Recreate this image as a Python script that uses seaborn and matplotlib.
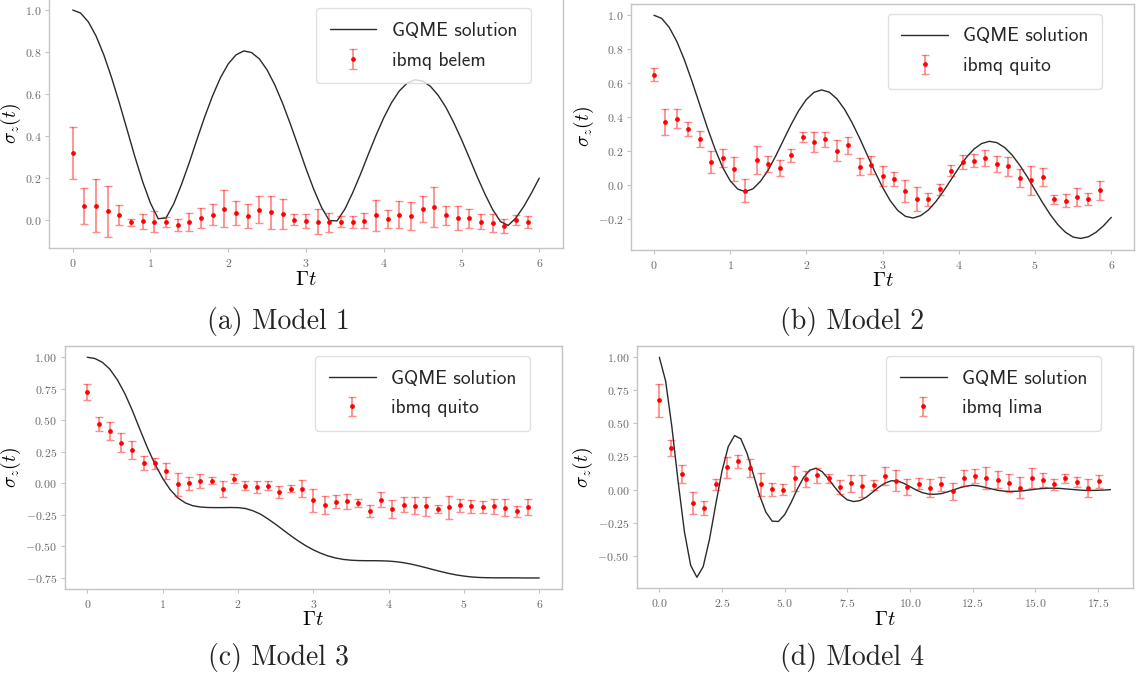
import numpy as np
import pandas as pd
import matplotlib
matplotlib.use("Agg")
import matplotlib.pyplot as plt
from matplotlib.font_manager import FontProperties
import seaborn as sns

# ---------------------------------------------------------------- data
# hardware sampling times (models 1-3) and model-4 sampling times
t_exp = [0.0, 0.15, 0.3, 0.45, 0.6, 0.75, 0.9, 1.05, 1.2, 1.35,
         1.5, 1.65, 1.8, 1.95, 2.1, 2.25, 2.4, 2.55, 2.7, 2.85,
         3.0, 3.15, 3.3, 3.45, 3.6, 3.75, 3.9, 4.05, 4.2, 4.35,
         4.5, 4.65, 4.8, 4.95, 5.1, 5.25, 5.4, 5.55, 5.7, 5.85]
t_exp4 = [0.0, 0.45, 0.9, 1.35, 1.8, 2.25, 2.7, 3.15, 3.6, 4.05,
          4.5, 4.95, 5.4, 5.85, 6.3, 6.75, 7.2, 7.65, 8.1, 8.55,
          9.0, 9.45, 9.9, 10.35, 10.8, 11.25, 11.7, 12.15, 12.6, 13.05,
          13.5, 13.95, 14.4, 14.85, 15.3, 15.75, 16.2, 16.65, 17.1, 17.55]

# GQME time grids
t_gqme = [0.0, 0.1, 0.2, 0.3, 0.4, 0.5, 0.6, 0.7, 0.8, 0.9,
          1.0, 1.1, 1.2, 1.3, 1.4, 1.5, 1.6, 1.7, 1.8, 1.9,
          2.0, 2.1, 2.2, 2.3, 2.4, 2.5, 2.6, 2.7, 2.8, 2.9,
          3.0, 3.1, 3.2, 3.3, 3.4, 3.5, 3.6, 3.7, 3.8, 3.9,
          4.0, 4.1, 4.2, 4.3, 4.4, 4.5, 4.6, 4.7, 4.8, 4.9,
          5.0, 5.1, 5.2, 5.3, 5.4, 5.5, 5.6, 5.7, 5.8, 5.9, 6.0]
t_gqme4 = [0.0, 0.25, 0.5, 0.75, 1.0, 1.25, 1.5, 1.75, 2.0, 2.25,
           2.5, 2.75, 3.0, 3.25, 3.5, 3.75, 4.0, 4.25, 4.5, 4.75,
           5.0, 5.25, 5.5, 5.75, 6.0, 6.25, 6.5, 6.75, 7.0, 7.25,
           7.5, 7.75, 8.0, 8.25, 8.5, 8.75, 9.0, 9.25, 9.5, 9.75,
           10.0, 10.25, 10.5, 10.75, 11.0, 11.25, 11.5, 11.75, 12.0, 12.25,
           12.5, 12.75, 13.0, 13.25, 13.5, 13.75, 14.0, 14.25, 14.5, 14.75,
           15.0, 15.25, 15.5, 15.75, 16.0, 16.25, 16.5, 16.75, 17.0, 17.25,
           17.5, 17.75, 18.0]

# Model 1
gqme1 = [1.000, 0.986, 0.944, 0.876, 0.786, 0.677, 0.556, 0.428, 0.299, 0.180,
         0.078, 0.004, 0.008, 0.076, 0.169, 0.273, 0.385, 0.493, 0.592, 0.677,
         0.743, 0.786, 0.805, 0.797, 0.767, 0.714, 0.642, 0.554, 0.455, 0.350,
         0.243, 0.144, 0.058, -0.005, -0.006, 0.050, 0.128, 0.216, 0.310, 0.402,
         0.486, 0.558, 0.614, 0.651, 0.667, 0.661, 0.636, 0.593, 0.535, 0.463,
         0.382, 0.295, 0.206, 0.123, 0.048, -0.009, -0.028, 0.008, 0.062, 0.127, 0.198]
belem = [0.317, 0.065, 0.067, 0.040, 0.022, -0.013, -0.008, -0.010, -0.012, -0.025,
         -0.012, 0.008, 0.022, 0.052, 0.032, 0.018, 0.048, 0.035, 0.027, 0.000,
         -0.005, -0.010, -0.013, -0.010, -0.010, -0.005, 0.020, 0.003, 0.024, 0.017,
         0.050, 0.060, 0.020, 0.006, 0.006, -0.010, -0.016, -0.030, -0.003, -0.010]
belem_err = [0.125, 0.088, 0.128, 0.122, 0.048, 0.018, 0.035, 0.050, 0.024, 0.030,
             0.044, 0.048, 0.050, 0.088, 0.058, 0.058, 0.063, 0.078, 0.073, 0.026,
             0.033, 0.060, 0.045, 0.027, 0.028, 0.036, 0.075, 0.044, 0.063, 0.069,
             0.062, 0.096, 0.047, 0.057, 0.046, 0.037, 0.041, 0.033, 0.024, 0.028]

# Model 2
gqme2 = [1.000, 0.982, 0.929, 0.846, 0.737, 0.610, 0.475, 0.340, 0.215, 0.107,
         0.027, -0.022, -0.037, -0.020, 0.025, 0.091, 0.175, 0.267, 0.358, 0.440,
         0.505, 0.547, 0.561, 0.548, 0.509, 0.448, 0.368, 0.276, 0.177, 0.079,
         -0.012, -0.090, -0.148, -0.182, -0.192, -0.178, -0.145, -0.095, -0.033, 0.035,
         0.103, 0.165, 0.214, 0.246, 0.259, 0.251, 0.223, 0.178, 0.118, 0.049,
         -0.027, -0.102, -0.172, -0.231, -0.276, -0.304, -0.312, -0.302, -0.276, -0.237, -0.188]
quito2 = [0.651, 0.373, 0.392, 0.333, 0.273, 0.135, 0.161, 0.096, -0.031, 0.149,
          0.127, 0.102, 0.176, 0.282, 0.255, 0.270, 0.204, 0.235, 0.110, 0.120,
          0.053, 0.039, -0.033, -0.078, -0.082, -0.022, 0.086, 0.137, 0.145, 0.163,
          0.125, 0.112, 0.045, 0.029, 0.049, -0.082, -0.090, -0.071, -0.080, -0.029]
quito2_err = [0.040, 0.075, 0.055, 0.040, 0.045, 0.065, 0.055, 0.068, 0.068, 0.085,
              0.047, 0.049, 0.040, 0.030, 0.060, 0.045, 0.062, 0.048, 0.050, 0.055,
              0.058, 0.042, 0.065, 0.070, 0.037, 0.032, 0.033, 0.040, 0.038, 0.047,
              0.049, 0.054, 0.054, 0.083, 0.052, 0.025, 0.038, 0.053, 0.034, 0.055]

# Model 3
gqme3 = [1.000, 0.990, 0.960, 0.905, 0.820, 0.710, 0.575, 0.425, 0.280, 0.150,
         0.040, -0.050, -0.115, -0.155, -0.178, -0.188, -0.192, -0.193, -0.193, -0.192,
         -0.193, -0.200, -0.218, -0.245, -0.283, -0.325, -0.370, -0.415, -0.457, -0.495,
         -0.528, -0.555, -0.577, -0.593, -0.604, -0.610, -0.613, -0.614, -0.614, -0.615,
         -0.617, -0.622, -0.630, -0.641, -0.655, -0.670, -0.686, -0.701, -0.715, -0.727,
         -0.736, -0.743, -0.747, -0.749, -0.750, -0.750, -0.750, -0.750, -0.751, -0.751, -0.751]
quito3 = [0.722, 0.471, 0.413, 0.323, 0.265, 0.161, 0.159, 0.100, -0.008, 0.000,
          0.021, 0.021, -0.048, 0.037, -0.021, -0.029, -0.019, -0.069, -0.042, -0.042,
          -0.135, -0.172, -0.145, -0.143, -0.153, -0.220, -0.132, -0.204, -0.169, -0.177,
          -0.183, -0.201, -0.190, -0.175, -0.183, -0.190, -0.183, -0.193, -0.222, -0.190]
quito3_err = [0.063, 0.056, 0.071, 0.075, 0.073, 0.058, 0.042, 0.063, 0.093, 0.050,
              0.055, 0.030, 0.064, 0.037, 0.036, 0.045, 0.034, 0.050, 0.025, 0.070,
              0.090, 0.070, 0.050, 0.060, 0.032, 0.049, 0.060, 0.070, 0.058, 0.069,
              0.075, 0.032, 0.092, 0.050, 0.050, 0.048, 0.057, 0.066, 0.042, 0.062]

# Model 4
gqme4 = [1.000, 0.821, 0.473, 0.058, -0.319, -0.574, -0.664, -0.583, -0.377, -0.113,
         0.140, 0.325, 0.408, 0.384, 0.273, 0.116, -0.045, -0.171, -0.239, -0.242,
         -0.190, -0.101, 0.001, 0.089, 0.146, 0.161, 0.134, 0.080, 0.017, -0.040,
         -0.078, -0.091, -0.084, -0.059, -0.022, 0.017, 0.048, 0.066, 0.065, 0.047,
         0.022, -0.004, -0.024, -0.035, -0.036, -0.031, -0.018, -0.002, 0.014, 0.026,
         0.032, 0.027, 0.016, 0.005, -0.006, -0.012, -0.015, -0.013, -0.010, -0.004,
         0.002, 0.007, 0.010, 0.010, 0.008, 0.004, 0.000, -0.004, -0.007, -0.007,
         -0.006, -0.004, -0.001]
lima = [0.676, 0.314, 0.116, -0.100, -0.141, 0.038, 0.168, 0.214, 0.163, 0.038,
        0.003, -0.003, 0.085, 0.078, 0.108, 0.085, 0.018, 0.048, 0.028, 0.035,
        0.103, 0.065, 0.018, 0.045, 0.010, 0.043, -0.015, 0.090, 0.103, 0.088,
        0.075, 0.050, 0.013, 0.085, 0.073, 0.040, 0.085, 0.060, 0.010, 0.063]
lima_err = [0.125, 0.062, 0.070, 0.083, 0.054, 0.038, 0.078, 0.050, 0.066, 0.086,
            0.049, 0.042, 0.095, 0.060, 0.058, 0.033, 0.053, 0.065, 0.085, 0.035,
            0.068, 0.080, 0.060, 0.040, 0.070, 0.055, 0.063, 0.060, 0.055, 0.085,
            0.065, 0.067, 0.078, 0.077, 0.054, 0.042, 0.034, 0.038, 0.068, 0.050]

captions = ["(a) Model 1", "(b) Model 2", "(c) Model 3", "(d) Model 4"]
devices = ["ibmq belem", "ibmq quito", "ibmq quito", "ibmq lima"]

# ---------------------------------------------------------------- style
sns.set_theme(style="ticks")
spine_grey = "#c4c4c4"
plt.rcParams.update({
    "font.family": ["cmr10", "DejaVu Serif"],
    "mathtext.fontset": "cm",
    "axes.formatter.use_mathtext": True,
    "axes.edgecolor": spine_grey,
    "axes.linewidth": 1.0,
    "xtick.color": spine_grey,
    "ytick.color": spine_grey,
    "xtick.labelcolor": "#6a6a6a",
    "ytick.labelcolor": "#6a6a6a",
    "xtick.labelsize": 8.5,
    "ytick.labelsize": 8.5,
    "xtick.major.size": 3,
    "ytick.major.size": 3,
    "xtick.major.width": 0.8,
    "ytick.major.width": 0.8,
    "ytick.major.pad": 2.5,
    "axes.labelcolor": "black",
})

W, H = 1139, 680
fig = plt.figure(figsize=(W / 100, H / 100), dpi=100)


def px_axes(left, right, top, bottom):
    return fig.add_axes([left / W, 1 - bottom / H, (right - left) / W, (bottom - top) / H])


panels = [
    dict(box=(49.4, 562.6, -1.3, 248.1), tc=t_gqme, yc=gqme1, te=t_exp, ye=belem, ee=belem_err),
    dict(box=(631.1, 1134.1, 4.1, 249.6), tc=t_gqme, yc=gqme2, te=t_exp, ye=quito2, ee=quito2_err),
    dict(box=(64.7, 561.8, 346.2, 589.0), tc=t_gqme, yc=gqme3, te=t_exp, ye=quito3, ee=quito3_err),
    dict(box=(636.8, 1133.0, 346.3, 588.3), tc=t_gqme4, yc=gqme4, te=t_exp4, ye=lima, ee=lima_err),
]

legend_font = FontProperties(family="cmss10", size=14)

for i, p in enumerate(panels):
    ax = px_axes(*p["box"])
    curve = pd.DataFrame({"t": p["tc"], "sz": p["yc"]})
    sns.lineplot(data=curve, x="t", y="sz", ax=ax, color="#2a2a2a", linewidth=1.0,
                 label="GQME solution")
    ax.errorbar(p["te"], p["ye"], yerr=p["ee"], fmt="o", ms=2.4, color="red",
                ecolor=(1.0, 0.0, 0.0, 0.45), elinewidth=1.3, capsize=3, capthick=1.0,
                label=devices[i], zorder=3)
    for s in ax.spines.values():
        s.set_visible(True)
        s.set_color(spine_grey)
    ax.set_xlabel(r"$\Gamma t$", fontsize=15, labelpad=1)
    ax.set_ylabel(r"$\sigma_z(t)$", fontsize=14, labelpad=1.5)
    width_px = p["box"][1] - p["box"][0]
    ax.legend(loc="upper right", bbox_to_anchor=(1 - 22 / width_px, 1.0),
              prop=legend_font, frameon=True, fancybox=True, framealpha=0.8,
              edgecolor="0.85", handlelength=2.4, borderpad=0.7, labelspacing=0.6)

# sub-figure captions
cap_pos = [(278, 322), (852, 322), (278, 658), (852, 658)]
for (x, y), txt in zip(cap_pos, captions):
    fig.text(x / W, 1 - y / H, txt, ha="center", va="center", fontsize=20,
             family="cmr10")

fig.savefig("out.png", dpi=100)
